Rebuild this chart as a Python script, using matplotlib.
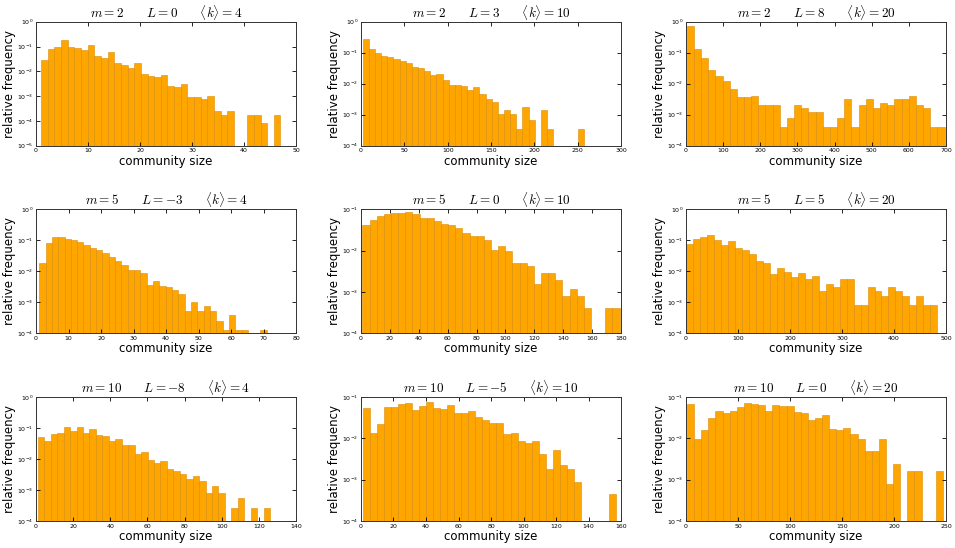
import numpy as np
import matplotlib
matplotlib.use("Agg")
from matplotlib import pyplot as plt


# panel parameters (m, L, <k>)
m_vals = [2, 2, 2, 5, 5, 5, 10, 10, 10]
L_vals = [0, 3, 8, -3, 0, 5, -8, -5, 0]
k_vals = [4, 10, 20, 4, 10, 20, 4, 10, 20]

# range of community sizes covered by the 36 histogram bins
size_min = [1, 2, 2, 1, 1, 1, 1, 1, 1]
size_max = [47, 257, 696, 71, 179, 483, 126, 157, 247]
n_bins = 36

freq_m2_L0 = [0.028, 0.081, 0.098, 0.19, 0.093, 0.084, 0.072, 0.11, 0.041, 0.036,
              0.058, 0.022, 0.018, 0.013, 0.021, 0.0078, 0.0065, 0.0060, 0.0069, 0.0026,
              0.0023, 0.0030, 0.00095, 0.00095, 0.00079, 0.0010, 0.00026, 0.00017, 0.00026, 0,
              0, 0.00017, 0.00017, 0.000085, 0, 0.00017]
freq_m2_L3 = [0.27, 0.128, 0.10, 0.08, 0.074, 0.061, 0.054, 0.045, 0.035, 0.031,
              0.026, 0.019, 0.021, 0.013, 0.0093, 0.0090, 0.0084, 0.0062, 0.0078, 0.0046,
              0.0032, 0.0025, 0.00105, 0.0014, 0.00105, 0.00035, 0.0018, 0.00067, 0, 0.0014,
              0.00035, 0, 0, 0, 0, 0.00035]
freq_m2_L8 = [0.72, 0.13, 0.066, 0.027, 0.018, 0.012, 0.0069, 0.0037, 0.0037, 0.0041,
              0.002, 0.002, 0.002, 0.00041, 0.00081, 0.002, 0.0016, 0.0012, 0.0012, 0.00041,
              0.00041, 0.00081, 0.0032, 0.00041, 0.002, 0.0032, 0.0016, 0.0024, 0.002, 0.0032,
              0.0032, 0.0041, 0.002, 0.0016, 0.00041, 0.00041]
freq_m5_Lm3 = [0.019, 0.084, 0.13, 0.125, 0.113, 0.10, 0.091, 0.069, 0.055, 0.047,
               0.040, 0.028, 0.022, 0.016, 0.011, 0.011, 0.0089, 0.0036, 0.005, 0.0034,
               0.0032, 0.0025, 0.0019, 0.00053, 0.00105, 0.00053, 0.00076, 0.00053, 0.00025, 0.00013,
               0.00038, 0.00013, 0.00013, 0, 0, 0.00013]
freq_m5_L0 = [0.042, 0.054, 0.069, 0.079, 0.081, 0.081, 0.085, 0.077, 0.062, 0.061,
              0.051, 0.043, 0.042, 0.035, 0.027, 0.023, 0.023, 0.018, 0.0106, 0.0127,
              0.010, 0.005, 0.005, 0.0042, 0.0016, 0.0028, 0.0028, 0.002, 0.00081, 0.0012,
              0.0008, 0.00041, 0, 0, 0.00041, 0.00041]
freq_m5_L5 = [0.076, 0.113, 0.128, 0.149, 0.102, 0.072, 0.093, 0.055, 0.047, 0.036,
              0.021, 0.019, 0.0082, 0.0128, 0.0098, 0.0067, 0.0089, 0.0056, 0.0071, 0.0024,
              0.004, 0.0032, 0.0056, 0.0056, 0.0008, 0.0008, 0.0032, 0.0024, 0.0016, 0.0032,
              0.0024, 0.0016, 0.0008, 0.0016, 0.0008, 0.0008]
freq_m10_Lm8 = [0.05, 0.037, 0.064, 0.071, 0.105, 0.082, 0.105, 0.069, 0.09, 0.061,
                0.056, 0.038, 0.043, 0.028, 0.028, 0.014, 0.017, 0.0093, 0.0076, 0.0083,
                0.0049, 0.0042, 0.0032, 0.0022, 0.0028, 0.0019, 0.00082, 0.00135, 0.00082, 0,
                0.00026, 0.00054, 0, 0.00026, 0, 0.00026]
freq_m10_Lm5 = [0.055, 0.0132, 0.0218, 0.057, 0.056, 0.068, 0.072, 0.049, 0.059, 0.074,
                0.055, 0.051, 0.065, 0.042, 0.042, 0.045, 0.033, 0.028, 0.024, 0.024,
                0.0125, 0.0137, 0.0087, 0.0077, 0.0088, 0.0041, 0.0018, 0.0053, 0.0023, 0.0018,
                0.00089, 0, 0, 0, 0, 0.00045]
freq_m10_L0 = [0.068, 0.0096, 0.0159, 0.0305, 0.046, 0.041, 0.046, 0.057, 0.073, 0.068,
               0.065, 0.046, 0.065, 0.059, 0.060, 0.043, 0.042, 0.027, 0.0305, 0.0367,
               0.0168, 0.016, 0.0178, 0.0127, 0.0096, 0.0049, 0.0049, 0.0096, 0.0008, 0.0024,
               0, 0.0016, 0.0016, 0, 0, 0.0016]

freqs = [freq_m2_L0, freq_m2_L3, freq_m2_L8,
         freq_m5_Lm3, freq_m5_L0, freq_m5_L5,
         freq_m10_Lm8, freq_m10_Lm5, freq_m10_L0]

x_max = [50, 300, 700, 80, 180, 500, 140, 160, 250]
x_step = [10, 50, 100, 10, 20, 100, 20, 20, 50]
y_lo = [-5, -4, -4, -4, -4, -4, -4, -4, -4]
y_hi = [0, 0, 0, 0, -1, 0, 0, -1, -1]

fig = plt.figure(figsize=(9.55, 5.48), dpi=100)

lefts = [0.0377, 0.378, 0.7183]
bottoms = [0.7341, 0.3918, 0.0493]
w, h = 0.2723, 0.2263

for i in range(9):
    row, col = divmod(i, 3)
    ax = fig.add_axes([lefts[col], bottoms[row], w, h])

    edges = np.linspace(size_min[i], size_max[i], n_bins + 1)
    f = np.array(freqs[i])
    keep = f > 0
    ax.bar(edges[:-1][keep], f[keep], width=np.diff(edges)[keep], align='edge',
           color='orange', edgecolor='#d98b0b', linewidth=0.4)

    ax.set_yscale('log')
    ax.set_ylim(10.0 ** y_lo[i], 10.0 ** y_hi[i])
    ax.minorticks_off()
    ax.set_xlim(0, x_max[i])
    ax.set_xticks(np.arange(0, x_max[i] + 1, x_step[i]))

    ax.tick_params(direction='in', top=True, right=True, length=3, width=0.6,
                   labelsize=4.5, pad=2)
    for sp in ax.spines.values():
        sp.set_linewidth(0.7)
        sp.set_color('#333333')

    ax.set_xlabel('community size', fontsize=8.5, labelpad=1)
    ax.set_ylabel('relative frequency', fontsize=8.5, labelpad=1)
    ax.set_title(r'$m=%d \qquad L=%d \qquad \langle k\rangle=%d$' % (m_vals[i], L_vals[i], k_vals[i]),
                 fontsize=9.5, math_fontfamily='cm', pad=3)

fig.savefig('out.png', dpi=100)
